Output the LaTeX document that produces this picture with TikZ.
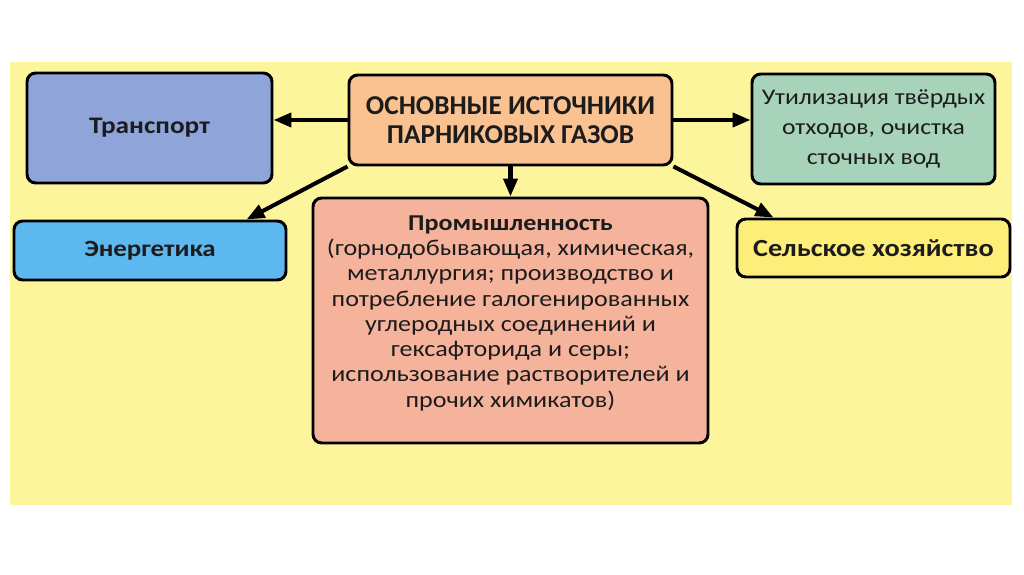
\documentclass[tikz,border=0pt]{standalone}
\usepackage{fontspec}
\setmainfont{Carlito}[FakeStretch=1.15]
\newfontfamily\headfont{Carlito}
\usetikzlibrary{positioning,arrows.meta}

\definecolor{panelyellow}{HTML}{FDF59B}
\definecolor{transblue}{HTML}{8FA5DA}
\definecolor{energblue}{HTML}{5CB8EE}
\definecolor{peach}{HTML}{F9C290}
\definecolor{sage}{HTML}{A6D3B9}
\definecolor{agriyellow}{HTML}{FCEE78}
\definecolor{salmon}{HTML}{F6B39C}
\definecolor{inkgray}{HTML}{1C1C1C}

\begin{document}
\begin{tikzpicture}[
  box/.style={draw=black, line width=1.7pt, rounded corners=5pt,
    inner sep=3pt, align=center, text=inkgray},
  link/.style={line width=2.3pt, -{Triangle[length=3.6mm,width=2.8mm]}}
]
  % --- canvas and background panel ---
  \useasboundingbox (0,0) rectangle (20.48,11.48);
  \fill[white] (0,0) rectangle (20.48,11.48);
  \fill[panelyellow] (0.2,1.38) rectangle (20.24,10.24);

  % --- central box ---
  \node[box, fill=peach, minimum width=6.46cm, minimum height=1.8cm,
    font=\headfont\bfseries\fontsize{15.5}{16.5}\selectfont] (central) at (10.21,9.08)
    {ОСНОВНЫЕ ИСТОЧНИКИ\\ПАРНИКОВЫХ ГАЗОВ};

  % --- top row ---
  \node[box, fill=transblue, minimum width=4.9cm, minimum height=2.2cm,
    font=\bfseries\fontsize{13.5}{15}\selectfont] (transport) at (2.99,8.92) {Транспорт};
  \node[box, fill=sage, minimum width=4.86cm, minimum height=2.2cm,
    font=\fontsize{12.7}{17}\selectfont] (waste) at (17.47,8.9)
    {Утилизация твёрдых\\отходов, очистка\\сточных вод};

  % --- second row ---
  \node[box, fill=energblue, minimum width=5.44cm, minimum height=1.18cm,
    font=\bfseries\fontsize{13.3}{15}\selectfont] (energ) at (3.0,6.47) {Энергетика};
  \node[box, fill=agriyellow, minimum width=5.46cm, minimum height=1.16cm,
    font=\bfseries\fontsize{14}{15}\selectfont] (agri) at (17.47,6.52) {Сельское хозяйство};

  % --- industry box ---
  \node[box, fill=salmon, minimum width=7.9cm, minimum height=4.9cm,
    font=\fontsize{12.9}{14.4}\selectfont] (industry) at (10.21,5.07)
    {{\bfseries Промышленность}\\(горнодобывающая, химическая,\\металлургия; производство и\\потребление галогенированных\\углеродных соединений и\\гексафторида и серы;\\использование растворителей и\\прочих химикатов)\\[-4pt]\mbox{}};

  % --- arrows ---
  \draw[link] (central.west) -- (central.west -| transport.east);
  \draw[link] (central.east) -- (central.east -| waste.west);
  \draw[link] (central.south) -- (industry.north);
  \draw[link] (central.south west) -- ([xshift=-0.82cm]energ.north east);
  \draw[link] (central.south east) -- ([xshift=0.76cm]agri.north west);
\end{tikzpicture}
\end{document}
